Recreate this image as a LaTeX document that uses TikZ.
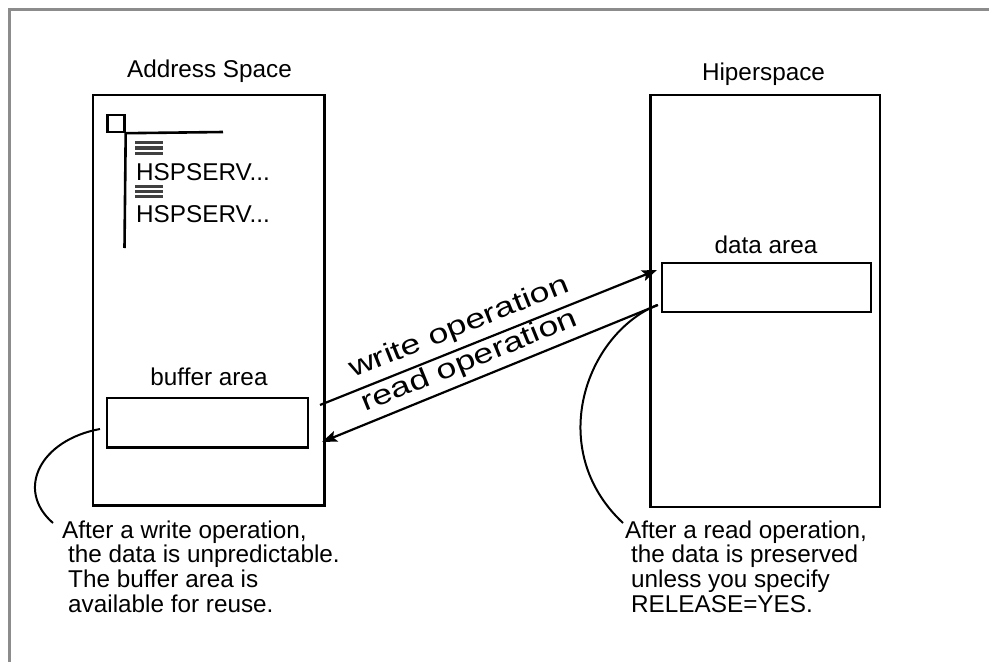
\documentclass[tikz,border=0pt]{standalone}
\usepackage{fontspec}
\setmainfont{Liberation Sans}
\newfontfamily\opfont[FakeStretch=1.3]{Liberation Sans}
\usetikzlibrary{arrows.meta}
\begin{document}
\begin{tikzpicture}[x=1pt,y=-1pt,
  box/.style={draw=black,line width=2.6pt,inner sep=0pt,outer sep=0pt},
  lbl/.style={font=\fontsize{24.3}{24.6}\selectfont,inner sep=0pt},
  note/.style={font=\fontsize{24.3}{24.6}\selectfont,inner sep=0pt,align=left,anchor=north west},
  oplbl/.style={font=\opfont\fontsize{27.5}{30}\selectfont,inner sep=0pt},
  arr/.style={line width=2.2pt,-{Stealth[length=15pt,width=11pt,inset=3pt]}},
  callout/.style={line width=2pt},
  bar/.style={line width=3.4pt,black!75},
  icon/.style={line width=2.6pt}]
\useasboundingbox (0,0) rectangle (989,662);
\draw[black!45,line width=2.5pt] (9.5,662) -- (9.5,9.5) -- (989,9.5);

% main boxes
\node[box,minimum width=231.5pt,minimum height=410.5pt] (as) at (208.75,300.25) {};
\node[box,minimum width=229.5pt,minimum height=412pt] (hs) at (765.25,301) {};
\node[box,minimum width=201pt,minimum height=49.5pt] (buf) at (207.5,422.75) {};
\node[box,minimum width=209pt,minimum height=49pt] (dat) at (766.5,287.5) {};

% titles
\node[lbl,anchor=base] (ast) at (209.5,77) {Address Space};
\node[lbl,anchor=base] (hst) at (763.5,80) {Hiperspace};
\node[lbl,anchor=base] (buft) at (209,385) {buffer area};
\node[lbl,anchor=base] (datt) at (766,253) {data area};

% program icon
\node[draw,line width=2.4pt,inner sep=0pt,minimum size=17pt] (sq) at (116,123.5) {};
\coordinate (hend) at (223,132);
\coordinate (vend) at (124.5,248);
\draw[icon] (sq.south east) -- (hend);
\draw[icon] (sq.south east) -- (vend);
\foreach \y in {142.75,148,153.25,186.75,191.5,196.25}
  \draw[bar] (135,\y) -- (163,\y);
\node[lbl,anchor=base west] (h1) at (136,180) {HSPSERV...};
\node[lbl,anchor=base west] (h2) at (136,222) {HSPSERV...};

% operations
\coordinate (ws) at (320,405);
\coordinate (we) at (657,270);
\coordinate (rs) at (658,305);
\coordinate (re) at (322,442);
\draw[arr] (ws) -- (we) node[oplbl,pos=0.435,sloped,above=6pt] {write operation};
\draw[arr] (rs) -- (re);
\path (re) -- (rs) node[oplbl,pos=0.46,sloped,above=5.5pt] {read operation};

% callouts
\coordinate (lc1) at (100,429);
\coordinate (lc2) at (53,523);
\draw[callout] (lc1) .. controls (40,440) and (15,490) .. (lc2);
\coordinate (rc1) at (657,305);
\coordinate (rc2) at (623,523);
\draw[callout] (rc1) .. controls (585,335) and (545,450) .. (rc2);

\node[note] (ln) at (62,520.5) {After a write operation,\\\hspace*{6pt}the data is unpredictable.\\\hspace*{6pt}The buffer area is\\\hspace*{6pt}available for reuse.};
\node[note] (rn) at (625,520.5) {After a read operation,\\\hspace*{6pt}the data is preserved\\\hspace*{6pt}unless you specify\\\hspace*{6pt}RELEASE=YES.};
\end{tikzpicture}
\end{document}
